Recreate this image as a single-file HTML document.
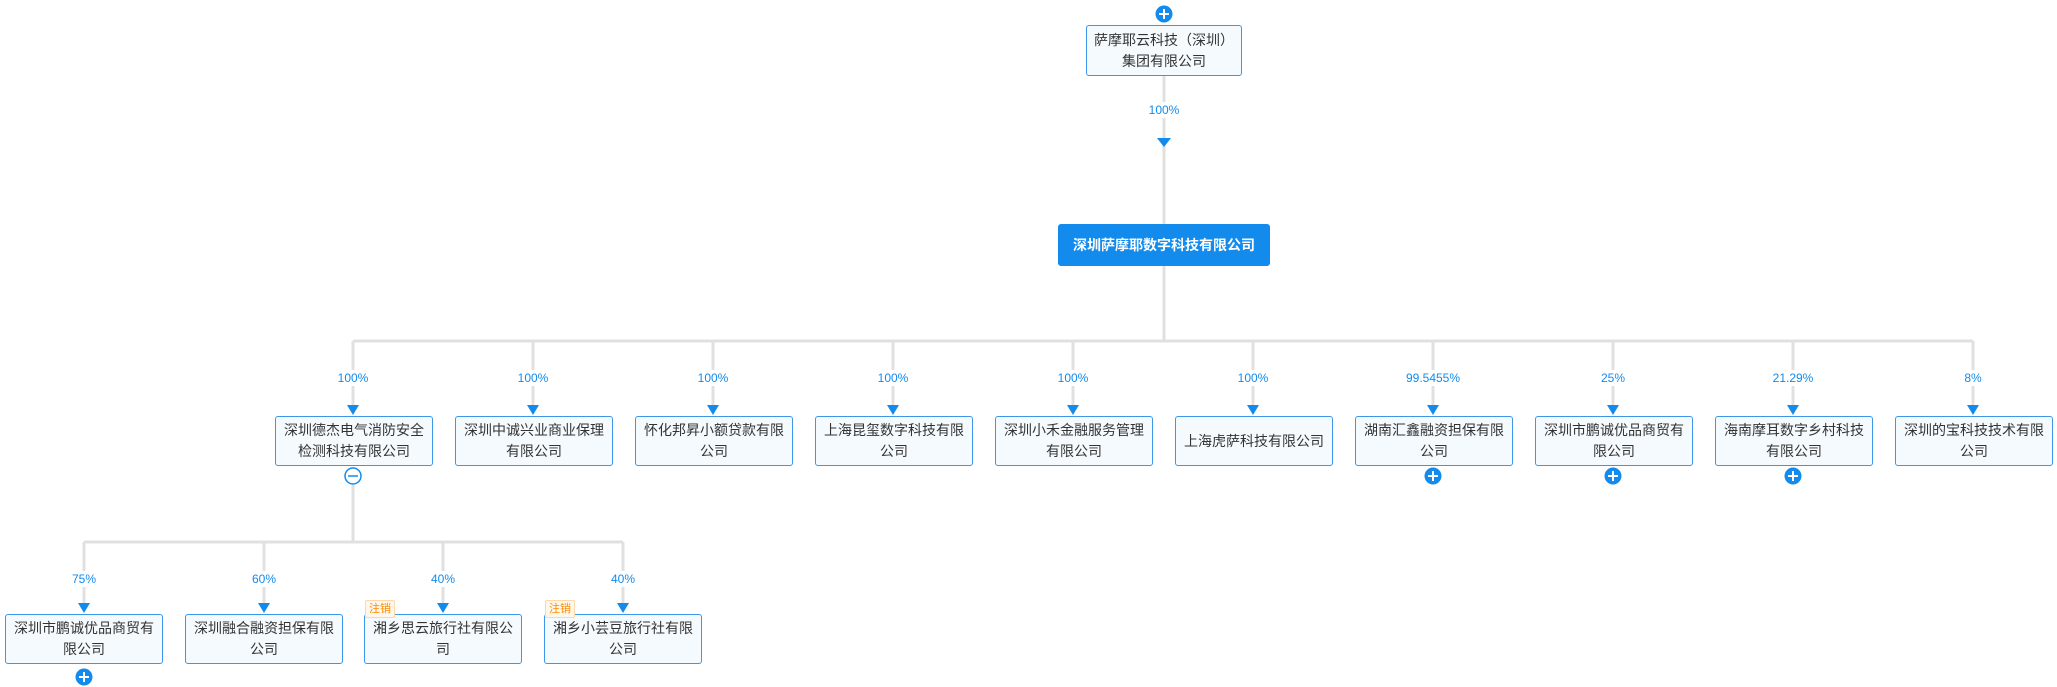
<!DOCTYPE html>
<html><head><meta charset="utf-8"><style>
body{margin:0;width:2057px;height:687px;background:#fff;position:relative;overflow:hidden;font-family:"Liberation Sans","Noto Sans CJK SC",sans-serif}
svg{position:absolute;left:0;top:0}
.b{position:absolute;box-sizing:border-box;border:1px solid #3c97ea;border-radius:3px;background:#f5fafe;color:#333;font-size:14px;line-height:21px;text-align:center;display:flex;align-items:center;justify-content:center;width:158px;height:50px;padding:0 4px}
.p{position:absolute;font-size:12px;color:#128bed;background:#fff;width:80px;text-align:center;line-height:16px}
.t{position:absolute;font-size:11px;color:#ff8a00;background:#fff7ec;border:1px solid #ffd8a8;border-radius:2px;line-height:16px;padding:0 3px}
</style></head><body>
<svg width="2057" height="687">
<g stroke="#e0e0e0" stroke-width="3" fill="none">
<line x1="1164" y1="76" x2="1164" y2="224"/>
<line x1="1164" y1="266" x2="1164" y2="341"/>
<line x1="353" y1="341" x2="1973" y2="341"/>
<line x1="353" y1="341" x2="353" y2="410"/><line x1="533" y1="341" x2="533" y2="410"/><line x1="713" y1="341" x2="713" y2="410"/><line x1="893" y1="341" x2="893" y2="410"/><line x1="1073" y1="341" x2="1073" y2="410"/><line x1="1253" y1="341" x2="1253" y2="410"/><line x1="1433" y1="341" x2="1433" y2="410"/><line x1="1613" y1="341" x2="1613" y2="410"/><line x1="1793" y1="341" x2="1793" y2="410"/><line x1="1973" y1="341" x2="1973" y2="410"/>
<line x1="353" y1="485" x2="353" y2="542"/>
<line x1="84" y1="542" x2="623" y2="542"/>
<line x1="84" y1="542" x2="84" y2="608"/><line x1="264" y1="542" x2="264" y2="608"/><line x1="443" y1="542" x2="443" y2="608"/><line x1="623" y1="542" x2="623" y2="608"/>
</g>
<g fill="#128bed">
<polygon points="1157,138 1171,138 1164,147"/>
<polygon points="347,405 359,405 353,415"/><polygon points="527,405 539,405 533,415"/><polygon points="707,405 719,405 713,415"/><polygon points="887,405 899,405 893,415"/><polygon points="1067,405 1079,405 1073,415"/><polygon points="1247,405 1259,405 1253,415"/><polygon points="1427,405 1439,405 1433,415"/><polygon points="1607,405 1619,405 1613,415"/><polygon points="1787,405 1799,405 1793,415"/><polygon points="1967,405 1979,405 1973,415"/>
<polygon points="78,603 90,603 84,613"/><polygon points="258,603 270,603 264,613"/><polygon points="437,603 449,603 443,613"/><polygon points="617,603 629,603 623,613"/>
<circle cx="1164" cy="14" r="8.5"/><circle cx="1433" cy="476" r="8.5"/><circle cx="1613" cy="476" r="8.5"/><circle cx="1793" cy="476" r="8.5"/><circle cx="84" cy="677" r="8.5"/>
</g>
<g stroke="#fff" stroke-width="2">
<path d="M1159 14h10M1164 9v10"/><path d="M1428 476h10M1433 471v10"/><path d="M1608 476h10M1613 471v10"/><path d="M1788 476h10M1793 471v10"/><path d="M79 677h10M84 672v10"/>
</g>
<circle cx="353" cy="476" r="8" fill="#fff" stroke="#128bed" stroke-width="1.5"/>
<line x1="348" y1="476" x2="358" y2="476" stroke="#128bed" stroke-width="1.5"/>
</svg>

<div class="b" style="left:1086px;top:25px;width:156px;height:51px">萨摩耶云科技（深圳）<br>集团有限公司</div>
<div class="p" style="left:1124px;top:102px">100%</div>
<div class="b" style="left:1058px;top:224px;width:212px;height:42px;background:#128bed;border-color:#128bed;color:#fff;font-weight:bold">深圳萨摩耶数字科技有限公司</div>

<div class="p" style="left:313px;top:370px">100%</div>
<div class="p" style="left:493px;top:370px">100%</div>
<div class="p" style="left:673px;top:370px">100%</div>
<div class="p" style="left:853px;top:370px">100%</div>
<div class="p" style="left:1033px;top:370px">100%</div>
<div class="p" style="left:1213px;top:370px">100%</div>
<div class="p" style="left:1393px;top:370px">99.5455%</div>
<div class="p" style="left:1573px;top:370px">25%</div>
<div class="p" style="left:1753px;top:370px">21.29%</div>
<div class="p" style="left:1933px;top:370px">8%</div>

<div class="b" style="left:275px;top:416px">深圳德杰电气消防安全<br>检测科技有限公司</div>
<div class="b" style="left:455px;top:416px">深圳中诚兴业商业保理<br>有限公司</div>
<div class="b" style="left:635px;top:416px">怀化邦昇小额贷款有限<br>公司</div>
<div class="b" style="left:815px;top:416px">上海昆玺数字科技有限<br>公司</div>
<div class="b" style="left:995px;top:416px">深圳小禾金融服务管理<br>有限公司</div>
<div class="b" style="left:1175px;top:416px">上海虎萨科技有限公司</div>
<div class="b" style="left:1355px;top:416px">湖南汇鑫融资担保有限<br>公司</div>
<div class="b" style="left:1535px;top:416px">深圳市鹏诚优品商贸有<br>限公司</div>
<div class="b" style="left:1715px;top:416px">海南摩耳数字乡村科技<br>有限公司</div>
<div class="b" style="left:1895px;top:416px">深圳的宝科技技术有限<br>公司</div>

<div class="p" style="left:44px;top:571px">75%</div>
<div class="p" style="left:224px;top:571px">60%</div>
<div class="p" style="left:403px;top:571px">40%</div>
<div class="p" style="left:583px;top:571px">40%</div>

<div class="b" style="left:5px;top:614px">深圳市鹏诚优品商贸有<br>限公司</div>
<div class="b" style="left:185px;top:614px">深圳融合融资担保有限<br>公司</div>
<div class="b" style="left:364px;top:614px">湘乡思云旅行社有限公<br>司</div>
<div class="b" style="left:544px;top:614px">湘乡小芸豆旅行社有限<br>公司</div>
<div class="t" style="left:365px;top:600px">注销</div>
<div class="t" style="left:545px;top:600px">注销</div>
</body></html>
